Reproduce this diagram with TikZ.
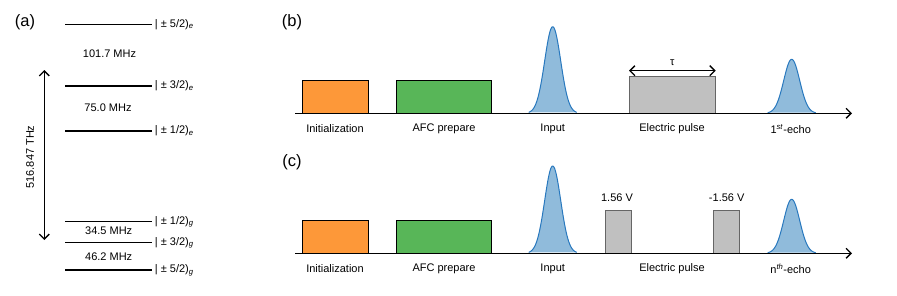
\documentclass[tikz,border=0pt]{standalone}
\usepackage{fontspec}
\setmainfont{Liberation Sans}
\usetikzlibrary{arrows.meta}

\definecolor{initorange}{RGB}{253,152,57}
\definecolor{afcgreen}{RGB}{88,182,88}
\definecolor{pulseblue}{RGB}{144,187,219}
\definecolor{pulseline}{RGB}{40,120,190}
\definecolor{elgray}{RGB}{192,192,192}

\begin{document}
\begin{tikzpicture}[x=1pt, y=-1pt, >={Straight Barb[length=5pt,width=10pt,line width=1.3pt]},
  level/.style={line width=1.5pt},
  lab/.style={font=\fontsize{11}{13}\selectfont, inner sep=1pt},
  tag/.style={font=\fontsize{16.5}{19}\selectfont},
  box/.style={draw, line width=1pt}]

  \useasboundingbox (0,0) rectangle (897,295);

  % ==========================================
  % (a) : niveaux d'énergie
  % ==========================================
  \node[tag] (taga) at (25,22) {(a)};
  \foreach \nm/\yy/\txt in {e5/24.3/{5/2)\textsubscript{\textit{e}}},
                            e3/86/{3/2)\textsubscript{\textit{e}}},
                            e1/131/{1/2)\textsubscript{\textit{e}}},
                            g1/221.7/{1/2)\textsubscript{\textit{g}}},
                            g3/242.7/{3/2)\textsubscript{\textit{g}}},
                            g5/270/{5/2)\textsubscript{\textit{g}}}}{
    \coordinate (\nm L) at (65,\yy);
    \coordinate (\nm R) at (151.7,\yy);
    \draw[level] (\nm L) -- (\nm R);
    \node[lab, anchor=west, xshift=2pt] (\nm lab) at (\nm R) {| ± \txt};
  }
  % écarts hyperfins
  \node[lab] (d1) at (109.5,54) {101.7 MHz};
  \node[lab] (d2) at (108,108) {75.0 MHz};
  \node[lab] (d3) at (108.7,230.7) {34.5 MHz};
  \node[lab] (d4) at (108.7,256.7) {46.2 MHz};
  % transition optique
  \coordinate (optT) at (44.3,70);
  \coordinate (optB) at (44.3,240);
  \draw[<->, line width=1.5pt] (optT) -- (optB);
  \node[lab, rotate=90] (opt) at (30,157) {516.847 THz};

  % ==========================================
  % (b) : séquence avec impulsion unique
  % ==========================================
  \node[tag] (tagb) at (292,22) {(b)};
  \coordinate (axbL) at (295,113.3);
  \coordinate (axbR) at (852,113.3);
  \draw[box, fill=initorange] (302.7,113.3) rectangle (368,80.7);
  \draw[box, fill=afcgreen] (396,113.3) rectangle (491.7,80.7);
  \draw[box, draw=black!60, fill=elgray] (629,113.3) rectangle (715.7,76);
  \coordinate (tauL) at (629,70.7);
  \coordinate (tauR) at (715.7,70.7);
  \draw[<->, line width=1.3pt] (tauL) -- node[above=3pt, lab] (tau) {τ} (tauR);
  % impulsions optiques
  \foreach \cx/\hh in {552.7/86.6, 791.7/54}{
    \fill[pulseblue] plot[domain=-24:24, samples=60] ({\cx+\x},{113.3-\hh*exp(-(\x*\x)/128)});
    \draw[pulseline, line width=1pt] plot[domain=-24:24, samples=60] ({\cx+\x},{113.3-\hh*exp(-(\x*\x)/128)});
  }
  \draw[->, line width=1.3pt] (axbL) -- (axbR);
  \node[lab] (binit) at (335,129) {Initialization};
  \node[lab] (bafc) at (444,129) {AFC prepare};
  \node[lab] (binp) at (552.7,129) {Input};
  \node[lab] (bel) at (672,129) {Electric pulse};
  \node[lab] (becho) at (790.7,129) {1\textsuperscript{\textit{st}}-echo};

  % ==========================================
  % (c) : séquence avec deux impulsions
  % ==========================================
  \node[tag] (tagc) at (292,162) {(c)};
  \coordinate (axcL) at (295,253.3);
  \coordinate (axcR) at (852,253.3);
  \draw[box, fill=initorange] (302.7,253.3) rectangle (368,220.7);
  \draw[box, fill=afcgreen] (396,253.3) rectangle (491.7,220.7);
  \draw[box, draw=black!60, fill=elgray] (605,253.3) rectangle (631,210);
  \draw[box, draw=black!60, fill=elgray] (713.3,253.3) rectangle (739.3,210);
  \node[lab] (vplus) at (617,198) {1.56 V};
  \node[lab] (vminus) at (726.7,198) {-1.56 V};
  % impulsions optiques
  \foreach \cx/\hh in {552.7/87.3, 791.7/54}{
    \fill[pulseblue] plot[domain=-24:24, samples=60] ({\cx+\x},{253.3-\hh*exp(-(\x*\x)/128)});
    \draw[pulseline, line width=1pt] plot[domain=-24:24, samples=60] ({\cx+\x},{253.3-\hh*exp(-(\x*\x)/128)});
  }
  \draw[->, line width=1.3pt] (axcL) -- (axcR);
  \node[lab] (cinit) at (335,269) {Initialization};
  \node[lab] (cafc) at (444,269) {AFC prepare};
  \node[lab] (cinp) at (552.7,269) {Input};
  \node[lab] (cel) at (672,269) {Electric pulse};
  \node[lab] (cecho) at (790.7,269) {n\textsuperscript{\textit{th}}-echo};

\end{tikzpicture}
\end{document}
